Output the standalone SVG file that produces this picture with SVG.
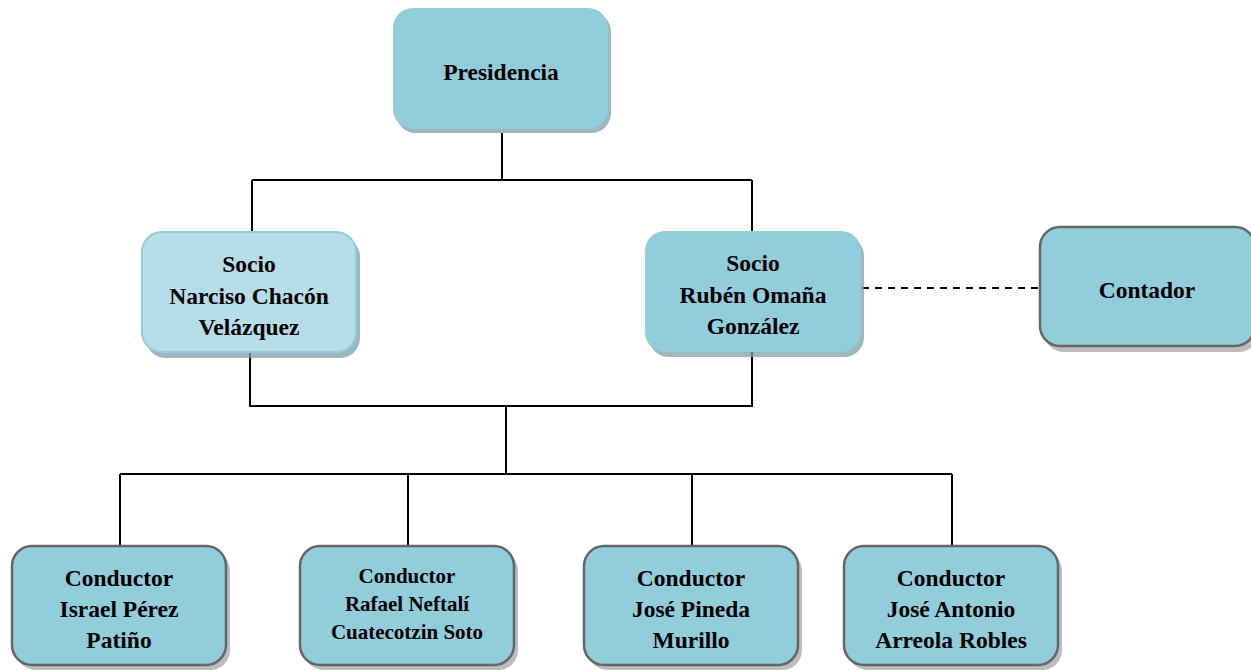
<svg xmlns="http://www.w3.org/2000/svg" width="1251" height="670" viewBox="0 0 1251 670">
<style>
.t{font-family:"Liberation Serif","Times New Roman",serif;font-weight:bold;font-size:23.5px;fill:#000;text-anchor:middle}
.s{font-size:21px}
.sh{fill:#7f9ea8;opacity:0.75}
.shg{fill:#a0a0a0;opacity:0.7}
.b1{fill:#92CDDC}
.b2{fill:#B6DDE8;stroke:#92CDDC;stroke-width:2}
.b3{fill:#92CDDC;stroke:#666;stroke-width:2.5}
.ln{stroke:#000;stroke-width:2;fill:none}
</style>
<rect width="1251" height="670" fill="#fff"/>
<g id="connectors">
<path class="ln" d="M502 133V180M252 180H752M252 180V233M752 180V232"/>
<path class="ln" d="M250 352V406H752V352M506 406V474M120 474H952M120 474V546M408 474V546M692 474V546M952 474V546"/>
<path class="ln" d="M862 288H1038" stroke-dasharray="7,6"/>
</g>
<g id="presidencia">
<rect class="sh" x="396" y="12" width="215" height="121" rx="20"/>
<rect class="b1" x="393" y="8" width="215" height="121" rx="20"/>
<text class="t" x="501" y="80">Presidencia</text>
</g>
<g id="socio1">
<rect class="sh" x="146" y="237" width="214" height="121" rx="20"/>
<rect class="b2" x="142" y="232" width="214" height="120" rx="20"/>
<text class="t" x="249" y="272">Socio</text>
<text class="t" x="249" y="304">Narciso Chacón</text>
<text class="t" x="249" y="335">Velázquez</text>
</g>
<g id="socio2">
<rect class="sh" x="649" y="236" width="215" height="121" rx="20"/>
<rect class="b1" x="645" y="231" width="216" height="121" rx="20"/>
<text class="t" x="753" y="271">Socio</text>
<text class="t" x="753" y="303">Rubén Omaña</text>
<text class="t" x="753" y="334">González</text>
</g>
<g id="contador">
<rect class="shg" x="1044" y="232" width="215" height="120" rx="20"/>
<rect class="b3" x="1040" y="227" width="215" height="119" rx="20"/>
<text class="t" x="1147" y="298">Contador</text>
</g>
<g id="conductor1">
<rect class="shg" x="16" y="551" width="214" height="119" rx="20"/>
<rect class="b3" x="12" y="546" width="214" height="119" rx="20"/>
<text class="t" x="119" y="586">Conductor</text>
<text class="t" x="119" y="617">Israel Pérez</text>
<text class="t" x="119" y="648">Patiño</text>
</g>
<g id="conductor2">
<rect class="shg" x="304" y="551" width="214" height="119" rx="20"/>
<rect class="b3" x="300" y="546" width="214" height="119" rx="20"/>
<text class="t s" x="407" y="583">Conductor</text>
<text class="t s" x="407" y="611">Rafael Neftalí</text>
<text class="t s" x="407" y="639">Cuatecotzin Soto</text>
</g>
<g id="conductor3">
<rect class="shg" x="588" y="551" width="214" height="119" rx="20"/>
<rect class="b3" x="584" y="546" width="214" height="119" rx="20"/>
<text class="t" x="691" y="586">Conductor</text>
<text class="t" x="691" y="617">José Pineda</text>
<text class="t" x="691" y="648">Murillo</text>
</g>
<g id="conductor4">
<rect class="shg" x="848" y="551" width="214" height="119" rx="20"/>
<rect class="b3" x="844" y="546" width="214" height="119" rx="20"/>
<text class="t" x="951" y="586">Conductor</text>
<text class="t" x="951" y="617">José Antonio</text>
<text class="t" x="951" y="648">Arreola Robles</text>
</g>
</svg>
